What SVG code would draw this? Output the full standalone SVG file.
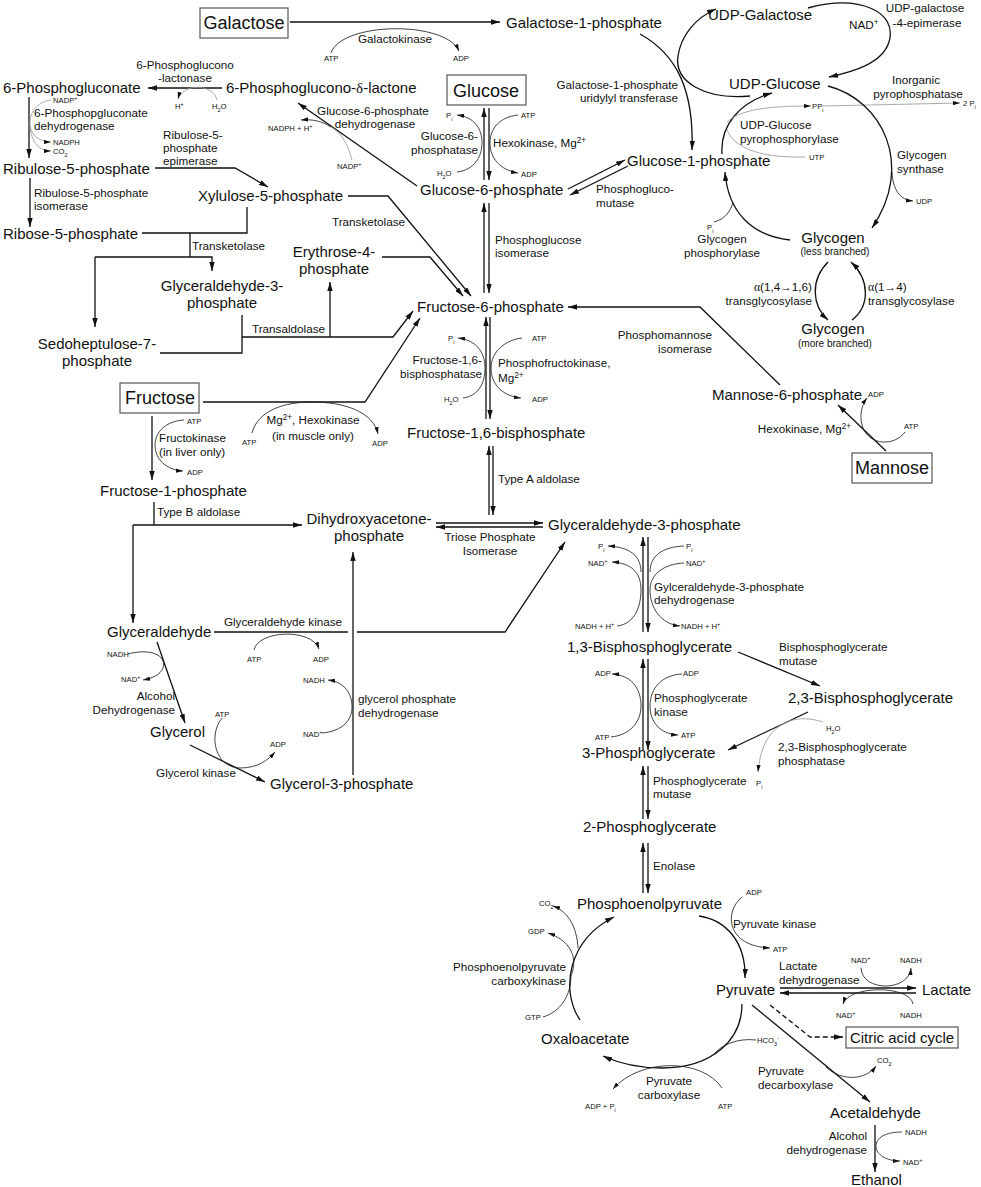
<svg xmlns="http://www.w3.org/2000/svg" width="981" height="1187" viewBox="0 0 981 1187">
<defs>
<style>
text{font-family:"Liberation Sans",Arial,sans-serif;fill:#111}
.m{font-size:15px}
.b{font-size:18px}
.e{font-size:11.7px}
.s{font-size:7.7px}
.sm{font-size:10px}
.u{font-size:70%;baseline-shift:super}
.d{font-size:70%;baseline-shift:sub}
.gk{font-family:"Liberation Serif",serif}
.l{stroke:#111;stroke-width:1.3;fill:none}
.t{stroke:#222;stroke-width:0.85;fill:none}
.g{stroke:#999;stroke-width:0.85;fill:none}
.box{fill:#fff;stroke:#555;stroke-width:1.2}
.am{marker-end:url(#a)}
.as{marker-end:url(#s)}
.dash{stroke-dasharray:5,3}
</style>
<marker id="a" viewBox="0 0 10 6" refX="10" refY="3" markerWidth="9" markerHeight="5.4" markerUnits="userSpaceOnUse" orient="auto"><path d="M0,0L10,3L0,6z" fill="#111"/></marker>
<marker id="s" viewBox="0 0 10 6" refX="10" refY="3" markerWidth="7" markerHeight="4.2" markerUnits="userSpaceOnUse" orient="auto"><path d="M0,0L10,3L0,6z" fill="#111"/></marker>
</defs>
<rect width="981" height="1187" fill="#fff"/>

<g id="connectors">
<path class="l am" d="M290,22H500"/>
<path class="t as" d="M331,53C341,22 445,20 459,51"/>
<path class="l am" d="M808,8C860,-6 898,12 889,42C882,64 852,72 829,77"/>
<path class="l am" d="M750,96C705,100 674,82 678,56C681,36 695,18 716,9"/>
<path class="l am" d="M640,34C678,55 694,92 692,150"/>
<path class="l am" d="M722,154C720,125 740,102 772,93"/>
<path class="g as" d="M727,122C742,108 775,106 811,106"/>
<path class="g" d="M805,157C765,158 735,150 727,130"/>
<path class="g as" d="M822,106L960,103"/>
<path class="l am" d="M828,86C882,100 915,165 872,228"/>
<path class="t as" d="M892,172C893,190 900,200 913,201"/>
<path class="l am" d="M790,240C752,236 728,212 725,172"/>
<path class="t" d="M714,222C726,219 731,210 733,202"/>
<path class="l am" d="M828,262C810,280 812,306 828,320"/>
<path class="l am" d="M852,320C870,306 870,280 851,262"/>
<path class="l am" d="M484,180V108"/>
<path class="l am" d="M489,108V180"/>
<path class="t as" d="M457,172C474,170 482,157 482,143C482,128 474,117 457,115"/>
<path class="t as" d="M518,115C500,117 490,128 490,143C490,158 500,170 518,173"/>
<path class="l am" d="M417,186L298,103"/>
<path class="g" d="M352,160C348,145 342,133 331,127"/>
<path class="t as" d="M331,127C322,121 312,119 301,120"/>
<path class="l am" d="M222,88H148"/>
<path class="g as" d="M217,100C214,88 198,85 188,89C182,92 179,95 178,99"/>
<path class="l am" d="M29,97V158"/>
<path class="g as" d="M51,100C36,102 30,113 30,123C30,134 38,142 51,142"/>
<path class="g as" d="M30,126C31,143 40,151 51,151"/>
<path class="l am" d="M155,168H235L268,187"/>
<path class="l am" d="M30,178V227"/>
<path class="l" d="M142,233H247V207"/>
<path class="l" d="M190,233V257"/>
<path class="l am" d="M95,257H212V271"/>
<path class="l am" d="M95,257V327"/>
<path class="l" d="M160,353H242V315"/>
<path class="l am" d="M242,337H393L413,311"/>
<path class="l am" d="M330,337V282"/>
<path class="l am" d="M382,257H430L463,296"/>
<path class="l am" d="M348,196H388L471,296"/>
<path class="l am" d="M203,402H365L420,318"/>
<path class="t as" d="M252,433C258,410 285,402 312,402C345,402 373,412 378,434"/>
<path class="l am" d="M152,416V480"/>
<path class="t as" d="M184,420C166,421 155,432 155,445C155,460 167,470 183,471"/>
<path class="l" d="M154,502V525"/>
<path class="l am" d="M133,525H302"/>
<path class="l am" d="M133,525V623"/>
<path class="l am" d="M484,293V203"/>
<path class="l am" d="M489,203V293"/>
<path class="l am" d="M568,189L625,160"/>
<path class="l am" d="M628,166L570,195"/>
<path class="l am" d="M486,419V317"/>
<path class="l am" d="M490,317V419"/>
<path class="t as" d="M463,398C478,396 485,384 485,368C485,352 476,340 458,338"/>
<path class="t as" d="M522,338C505,340 491,352 491,368C491,384 502,396 521,398"/>
<path class="l am" d="M780,385L700,307H568"/>
<path class="l am" d="M886,451L838,405"/>
<path class="t as" d="M905,432C895,446 870,446 863,428C859,417 861,406 867,398"/>
<path class="l am" d="M489,515V446"/>
<path class="l am" d="M493,446V515"/>
<path class="l am" d="M436,523H543"/>
<path class="l am" d="M543,527H436"/>
<path class="l" d="M214,632H348"/>
<path class="l am" d="M357,632H505L565,542"/>
<path class="t as" d="M254,650C258,630 312,628 319,649"/>
<path class="l am" d="M353,775V552"/>
<path class="t as" d="M322,733C344,731 352,719 352,707C352,694 345,682 328,680"/>
<path class="l am" d="M157,642L185,723"/>
<path class="t as" d="M128,654C150,648 167,655 163,668C160,675 153,678 143,680"/>
<path class="l am" d="M190,745L265,782"/>
<path class="t as" d="M222,718C208,735 215,768 240,768C258,768 268,760 275,752"/>
<path class="l am" d="M643,632V537"/>
<path class="l am" d="M648,537V632"/>
<path class="t as" d="M617,626C635,624 641,606 641,590C641,572 631,563 612,562"/>
<path class="t as" d="M641,572C641,556 630,547 608,546"/>
<path class="t" d="M684,546C662,547 650,556 650,572"/>
<path class="t as" d="M684,563C664,564 650,574 650,590C650,607 660,624 680,626"/>
<path class="l am" d="M738,652L820,686"/>
<path class="l am" d="M808,712L728,750"/>
<path class="g as" d="M823,722C792,712 762,724 758,772"/>
<path class="l am" d="M643,750V659"/>
<path class="l am" d="M648,659V750"/>
<path class="t as" d="M611,737C630,735 641,722 641,706C641,688 631,675 612,674"/>
<path class="t as" d="M682,674C662,675 650,688 650,706C650,722 660,734 678,735"/>
<path class="l am" d="M643,819V766"/>
<path class="l am" d="M648,766V819"/>
<path class="l am" d="M643,893V843"/>
<path class="l am" d="M648,843V893"/>
<path class="l am" d="M699,916C726,920 746,942 745,978"/>
<path class="t as" d="M742,897C724,912 726,946 770,948"/>
<path class="l am" d="M580,1020C560,990 568,940 614,917"/>
<path class="t as" d="M578,948C577,930 570,912 553,906"/>
<path class="t as" d="M571,976C579,956 569,940 548,933"/>
<path class="t" d="M543,1017C560,1012 571,996 571,976"/>
<path class="l am" d="M742,1004C742,1040 712,1068 662,1068C636,1068 616,1062 603,1056"/>
<path class="t" d="M756,1040C738,1038 722,1044 712,1056"/>
<path class="t as" d="M722,1088C702,1058 640,1058 613,1089"/>
<path class="l am" d="M780,988H916"/>
<path class="l am" d="M916,993H780"/>
<path class="t as" d="M861,968C862,992 909,992 911,968"/>
<path class="t as" d="M913,1004C910,985 849,985 843,1004"/>
<path class="l am dash" d="M770,1005L810,1037H843"/>
<path class="l am" d="M752,1005L870,1102"/>
<path class="t as" d="M826,1067C842,1082 866,1080 876,1066"/>
<path class="l am" d="M875,1125V1172"/>
<path class="t as" d="M902,1132C885,1132 876,1138 876,1146C876,1155 887,1161 900,1161"/>
</g>

<g id="galactose"><rect class="box" x="200" y="8" width="88" height="30"/><text class="b" x="244" y="29" text-anchor="middle">Galactose</text></g>
<g id="galactose-1-phosphate"><text class="m" x="506" y="28">Galactose-1-phosphate</text></g>
<g id="udp-galactose"><text class="m" x="708" y="20">UDP-Galactose</text></g>
<g id="udp-glucose"><text class="m" x="729" y="89">UDP-Glucose</text></g>
<g id="glucose-1-phosphate"><text class="m" x="627" y="166">Glucose-1-phosphate</text></g>
<g id="glycogen-less"><text class="m" x="833" y="243" text-anchor="middle">Glycogen</text><text class="sm" x="835" y="255" text-anchor="middle">(less branched)</text></g>
<g id="glycogen-more"><text class="m" x="833" y="334" text-anchor="middle">Glycogen</text><text class="sm" x="835" y="347" text-anchor="middle">(more branched)</text></g>
<g id="glucose"><rect class="box" x="447" y="75" width="79" height="30"/><text class="b" x="486" y="97" text-anchor="middle">Glucose</text></g>
<g id="glucose-6-phosphate"><text class="m" x="420" y="195">Glucose-6-phosphate</text></g>
<g id="phosphoglucono-lactone"><text class="m" x="226" y="93">6-Phosphoglucono-<tspan class="gk">δ</tspan>-lactone</text></g>
<g id="phosphogluconate"><text class="m" x="3" y="93">6-Phosphogluconate</text></g>
<g id="ribulose-5-phosphate"><text class="m" x="3" y="174">Ribulose-5-phosphate</text></g>
<g id="ribose-5-phosphate"><text class="m" x="3" y="239">Ribose-5-phosphate</text></g>
<g id="xylulose-5-phosphate"><text class="m" x="198" y="201">Xylulose-5-phosphate</text></g>
<g id="glyceraldehyde-3-phosphate-ppp"><text class="m" x="222" y="291" text-anchor="middle">Glyceraldehyde-3-</text><text class="m" x="222" y="308" text-anchor="middle">phosphate</text></g>
<g id="sedoheptulose-7-phosphate"><text class="m" x="97" y="349" text-anchor="middle">Sedoheptulose-7-</text><text class="m" x="97" y="366" text-anchor="middle">phosphate</text></g>
<g id="erythrose-4-phosphate"><text class="m" x="334" y="257" text-anchor="middle">Erythrose-4-</text><text class="m" x="334" y="274" text-anchor="middle">phosphate</text></g>
<g id="fructose-6-phosphate"><text class="m" x="417" y="312">Fructose-6-phosphate</text></g>
<g id="fructose"><rect class="box" x="120" y="383" width="79" height="30"/><text class="b" x="160" y="404" text-anchor="middle">Fructose</text></g>
<g id="fructose-1-phosphate"><text class="m" x="100" y="496">Fructose-1-phosphate</text></g>
<g id="fructose-1-6-bisphosphate"><text class="m" x="407" y="438">Fructose-1,6-bisphosphate</text></g>
<g id="mannose-6-phosphate"><text class="m" x="712" y="400">Mannose-6-phosphate</text></g>
<g id="mannose"><rect class="box" x="852" y="453" width="80" height="30"/><text class="b" x="892" y="474" text-anchor="middle">Mannose</text></g>
<g id="dihydroxyacetone-phosphate"><text class="m" x="369" y="524" text-anchor="middle">Dihydroxyacetone-</text><text class="m" x="369" y="541" text-anchor="middle">phosphate</text></g>
<g id="glyceraldehyde-3-phosphate"><text class="m" x="548" y="530">Glyceraldehyde-3-phosphate</text></g>
<g id="glyceraldehyde"><text class="m" x="107" y="637">Glyceraldehyde</text></g>
<g id="glycerol"><text class="m" x="150" y="737">Glycerol</text></g>
<g id="glycerol-3-phosphate"><text class="m" x="270" y="789">Glycerol-3-phosphate</text></g>
<g id="bisphosphoglycerate-13"><text class="m" x="567" y="652">1,3-Bisphosphoglycerate</text></g>
<g id="bisphosphoglycerate-23"><text class="m" x="788" y="703">2,3-Bisphosphoglycerate</text></g>
<g id="phosphoglycerate-3"><text class="m" x="582" y="758">3-Phosphoglycerate</text></g>
<g id="phosphoglycerate-2"><text class="m" x="583" y="832">2-Phosphoglycerate</text></g>
<g id="phosphoenolpyruvate"><text class="m" x="577" y="909">Phosphoenolpyruvate</text></g>
<g id="pyruvate"><text class="m" x="716" y="995">Pyruvate</text></g>
<g id="lactate"><text class="m" x="922" y="995">Lactate</text></g>
<g id="oxaloacetate"><text class="m" x="541" y="1044">Oxaloacetate</text></g>
<g id="citric-acid-cycle"><rect class="box" x="846" y="1027" width="112" height="21"/><text class="m" x="902" y="1043" text-anchor="middle">Citric acid cycle</text></g>
<g id="acetaldehyde"><text class="m" x="830" y="1118">Acetaldehyde</text></g>
<g id="ethanol"><text class="m" x="851" y="1185">Ethanol</text></g>

<g id="enzymes">
<text class="e" x="395" y="43" text-anchor="middle">Galactokinase</text>
<text class="e" x="925" y="12" text-anchor="middle">UDP-galactose</text>
<text class="e" x="927" y="27" text-anchor="middle">-4-epimerase</text>
<text class="e" x="849" y="29">NAD<tspan class="u">+</tspan></text>
<text class="e" x="678" y="89" text-anchor="end">Galactose-1-phosphate</text>
<text class="e" x="678" y="102" text-anchor="end">uridylyl transferase</text>
<text class="e" x="916" y="84" text-anchor="middle">Inorganic</text>
<text class="e" x="918" y="98" text-anchor="middle">pyrophosphatase</text>
<text class="e" x="740" y="129">UDP-Glucose</text>
<text class="e" x="740" y="143">pyrophosphorylase</text>
<text class="e" x="897" y="159">Glycogen</text>
<text class="e" x="897" y="173">synthase</text>
<text class="e" x="722" y="243" text-anchor="middle">Glycogen</text>
<text class="e" x="722" y="257" text-anchor="middle">phosphorylase</text>
<text class="e" x="812" y="291" text-anchor="end"><tspan class="gk">α</tspan>(1,4→1,6)</text>
<text class="e" x="812" y="305" text-anchor="end">transglycosylase</text>
<text class="e" x="868" y="291"><tspan class="gk">α</tspan>(1→4)</text>
<text class="e" x="868" y="305">transglycosylase</text>
<text class="e" x="185" y="69" text-anchor="middle">6-Phosphoglucono</text>
<text class="e" x="185" y="82" text-anchor="middle">-lactonase</text>
<text class="e" x="373" y="115" text-anchor="middle">Glucose-6-phosphate</text>
<text class="e" x="375" y="128" text-anchor="middle">dehydrogenase</text>
<text class="e" x="478" y="140" text-anchor="end">Glucose-6-</text>
<text class="e" x="478" y="154" text-anchor="end">phosphatase</text>
<text class="e" x="493" y="147">Hexokinase, Mg<tspan class="u">2+</tspan></text>
<text class="e" x="34" y="117">6-Phosphopgluconate</text>
<text class="e" x="34" y="130">dehydrogenase</text>
<text class="e" x="163" y="139">Ribulose-5-</text>
<text class="e" x="163" y="152">phosphate</text>
<text class="e" x="163" y="165">epimerase</text>
<text class="e" x="34" y="197">Ribulose-5-phosphate</text>
<text class="e" x="34" y="210">isomerase</text>
<text class="e" x="192" y="250">Transketolase</text>
<text class="e" x="332" y="226">Transketolase</text>
<text class="e" x="252" y="333">Transaldolase</text>
<text class="e" x="596" y="193">Phosphogluco-</text>
<text class="e" x="596" y="207">mutase</text>
<text class="e" x="495" y="244">Phosphoglucose</text>
<text class="e" x="495" y="257">isomerase</text>
<text class="e" x="712" y="339" text-anchor="end">Phosphomannose</text>
<text class="e" x="712" y="353" text-anchor="end">isomerase</text>
<text class="e" x="482" y="364" text-anchor="end">Fructose-1,6-</text>
<text class="e" x="482" y="378" text-anchor="end">bisphosphatase</text>
<text class="e" x="498" y="367">Phosphofructokinase,</text>
<text class="e" x="498" y="382">Mg<tspan class="u">2+</tspan></text>
<text class="e" x="851" y="433" text-anchor="end">Hexokinase, Mg<tspan class="u">2+</tspan></text>
<text class="e" x="313" y="424" text-anchor="middle">Mg<tspan class="u">2+</tspan>, Hexokinase</text>
<text class="e" x="313" y="440" text-anchor="middle">(in muscle only)</text>
<text class="e" x="159" y="442">Fructokinase</text>
<text class="e" x="159" y="456">(in liver only)</text>
<text class="e" x="157" y="516">Type B aldolase</text>
<text class="e" x="498" y="483">Type A aldolase</text>
<text class="e" x="490" y="541" text-anchor="middle">Triose Phosphate</text>
<text class="e" x="490" y="555" text-anchor="middle">Isomerase</text>
<text class="e" x="283" y="626" text-anchor="middle">Glyceraldehyde kinase</text>
<text class="e" x="175" y="700" text-anchor="end">Alcohol</text>
<text class="e" x="175" y="714" text-anchor="end">Dehydrogenase</text>
<text class="e" x="358" y="703">glycerol phosphate</text>
<text class="e" x="358" y="717">dehydrogenase</text>
<text class="e" x="196" y="777" text-anchor="middle">Glycerol kinase</text>
<text class="e" x="654" y="591">Gylceraldehyde-3-phosphate</text>
<text class="e" x="654" y="604">dehydrogenase</text>
<text class="e" x="779" y="651">Bisphosphoglycerate</text>
<text class="e" x="779" y="665">mutase</text>
<text class="e" x="654" y="702">Phosphoglycerate</text>
<text class="e" x="654" y="716">kinase</text>
<text class="e" x="778" y="751">2,3-Bisphosphoglycerate</text>
<text class="e" x="778" y="765">phosphatase</text>
<text class="e" x="653" y="785">Phosphoglycerate</text>
<text class="e" x="653" y="798">mutase</text>
<text class="e" x="653" y="870">Enolase</text>
<text class="e" x="733" y="928">Pyruvate kinase</text>
<text class="e" x="566" y="971" text-anchor="end">Phosphoenolpyruvate</text>
<text class="e" x="566" y="985" text-anchor="end">carboxykinase</text>
<text class="e" x="779" y="970">Lactate</text>
<text class="e" x="779" y="984">dehydrogenase</text>
<text class="e" x="669" y="1085" text-anchor="middle">Pyruvate</text>
<text class="e" x="669" y="1099" text-anchor="middle">carboxylase</text>
<text class="e" x="758" y="1075">Pyruvate</text>
<text class="e" x="758" y="1089">decarboxylase</text>
<text class="e" x="867" y="1140" text-anchor="end">Alcohol</text>
<text class="e" x="867" y="1154" text-anchor="end">dehydrogenase</text>
</g>

<g id="cofactors">
<text class="s" x="324" y="61">ATP</text>
<text class="s" x="453" y="61">ADP</text>
<text class="s" x="812" y="109">PP<tspan class="d">i</tspan></text>
<text class="s" x="809" y="160">UTP</text>
<text class="s" x="963" y="106">2 P<tspan class="d">i</tspan></text>
<text class="s" x="916" y="204">UDP</text>
<text class="s" x="707" y="230">P<tspan class="d">i</tspan></text>
<text class="s" x="446" y="118">P<tspan class="d">i</tspan></text>
<text class="s" x="437" y="176">H<tspan class="d">2</tspan>O</text>
<text class="s" x="521" y="118">ATP</text>
<text class="s" x="521" y="177">ADP</text>
<text class="s" x="337" y="169">NADP<tspan class="u">+</tspan></text>
<text class="s" x="268" y="131">NADPH + H<tspan class="u">+</tspan></text>
<text class="s" x="175" y="109">H<tspan class="u">+</tspan></text>
<text class="s" x="212" y="109">H<tspan class="d">2</tspan>O</text>
<text class="s" x="53" y="103">NADP<tspan class="u">+</tspan></text>
<text class="s" x="53" y="145">NADPH</text>
<text class="s" x="53" y="154">CO<tspan class="d">2</tspan></text>
<text class="s" x="187" y="424">ATP</text>
<text class="s" x="187" y="475">ADP</text>
<text class="s" x="242" y="445">ATP</text>
<text class="s" x="372" y="446">ADP</text>
<text class="s" x="448" y="341">P<tspan class="d">i</tspan></text>
<text class="s" x="444" y="402">H<tspan class="d">2</tspan>O</text>
<text class="s" x="532" y="341">ATP</text>
<text class="s" x="532" y="402">ADP</text>
<text class="s" x="868" y="397">ADP</text>
<text class="s" x="904" y="429">ATP</text>
<text class="s" x="598" y="549">P<tspan class="d">i</tspan></text>
<text class="s" x="588" y="566">NAD<tspan class="u">+</tspan></text>
<text class="s" x="575" y="629">NADH + H<tspan class="u">+</tspan></text>
<text class="s" x="686" y="549">P<tspan class="d">i</tspan></text>
<text class="s" x="686" y="566">NAD<tspan class="u">+</tspan></text>
<text class="s" x="681" y="629">NADH + H<tspan class="u">+</tspan></text>
<text class="s" x="595" y="676">ADP</text>
<text class="s" x="595" y="740">ATP</text>
<text class="s" x="683" y="676">ADP</text>
<text class="s" x="681" y="738">ATP</text>
<text class="s" x="826" y="731">H<tspan class="d">2</tspan>O</text>
<text class="s" x="756" y="786">P<tspan class="d">i</tspan></text>
<text class="s" x="247" y="662">ATP</text>
<text class="s" x="313" y="662">ADP</text>
<text class="s" x="107" y="657">NADH</text>
<text class="s" x="121" y="682">NAD<tspan class="u">+</tspan></text>
<text class="s" x="215" y="717">ATP</text>
<text class="s" x="270" y="747">ADP</text>
<text class="s" x="303" y="683">NADH</text>
<text class="s" x="303" y="737">NAD<tspan class="u">+</tspan></text>
<text class="s" x="746" y="895">ADP</text>
<text class="s" x="773" y="952">ATP</text>
<text class="s" x="539" y="906">CO<tspan class="d">2</tspan></text>
<text class="s" x="528" y="934">GDP</text>
<text class="s" x="525" y="1020">GTP</text>
<text class="s" x="757" y="1043">HCO<tspan class="d">3</tspan><tspan class="u">-</tspan></text>
<text class="s" x="585" y="1109">ADP + P<tspan class="d">i</tspan></text>
<text class="s" x="718" y="1109">ATP</text>
<text class="s" x="851" y="963">NAD<tspan class="u">+</tspan></text>
<text class="s" x="900" y="963">NADH</text>
<text class="s" x="836" y="1018">NAD<tspan class="u">+</tspan></text>
<text class="s" x="900" y="1018">NADH</text>
<text class="s" x="877" y="1063">CO<tspan class="d">2</tspan></text>
<text class="s" x="905" y="1135">NADH</text>
<text class="s" x="903" y="1165">NAD<tspan class="u">+</tspan></text>
</g>
</svg>
